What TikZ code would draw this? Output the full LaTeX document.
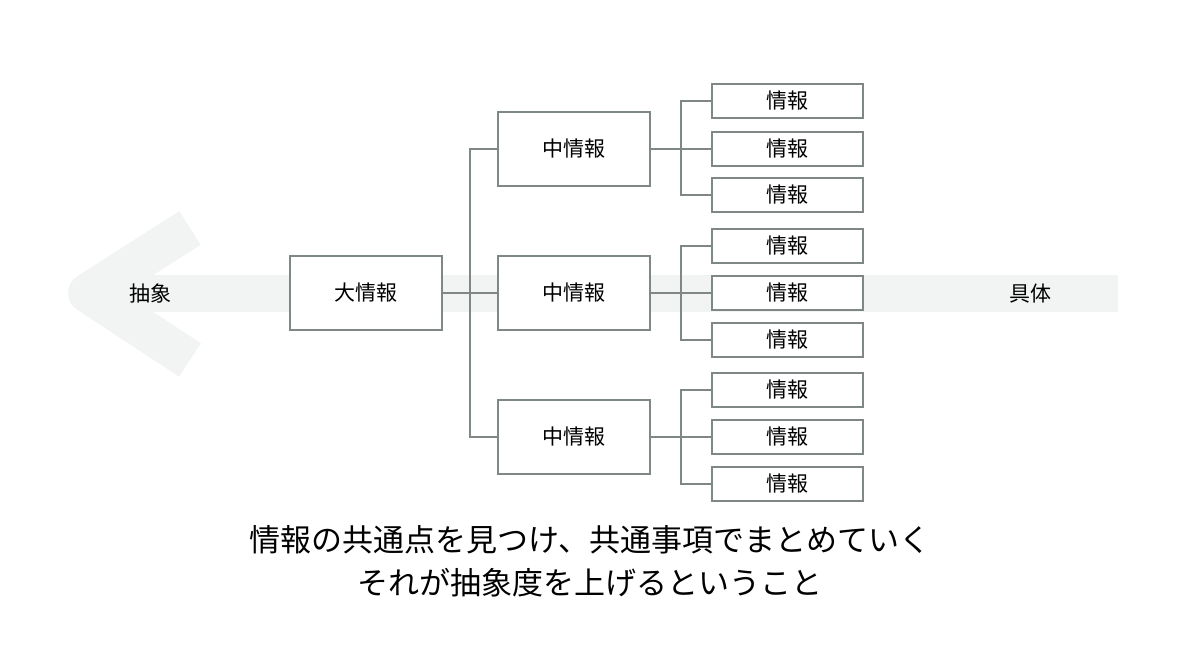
\documentclass[tikz,border=0pt]{standalone}
\usepackage{fontspec}
\newfontfamily\cjk{Noto Sans CJK JP}
\begin{document}
\begin{tikzpicture}[x=1pt,y=-1pt,
  box/.style={draw=linec,line width=2.4pt,fill=white,inner sep=0pt,font=\cjk\fontsize{21}{25}\selectfont},
  big/.style={box,minimum width=152pt,minimum height=74pt},
  small/.style={box,minimum width=151pt,minimum height=34pt},
  conn/.style={draw=linec,line width=2.4pt},
  lbl/.style={font=\cjk\fontsize{21}{25}\selectfont}]
\definecolor{linec}{HTML}{808887}
\definecolor{arrowc}{HTML}{F2F4F3}
\useasboundingbox (0,0) rectangle (1200,668);
% background arrow
\fill[arrowc] (80,275) rectangle (1118,312);
\draw[arrowc,line width=40pt,line join=round] (190,228) -- (88,293) -- (190,360);
\node[lbl] (abs) at (150,294) {抽象};
\node[lbl] (con) at (1030,294) {具体};
% boxes
\node[big] (L) at (366,293) {大情報};
\node[big] (M1) at (574,149) {中情報};
\node[big] (M2) at (574,293) {中情報};
\node[big] (M3) at (574,437) {中情報};
\foreach \m/\a/\b/\c in {1/101/149/195,2/246/293/340,3/390/437/484}{
  \node[small] (S\m a) at (787.5,\a) {情報};
  \node[small] (S\m b) at (787.5,\b) {情報};
  \node[small] (S\m c) at (787.5,\c) {情報};
}
\coordinate (J) at (470,293);
\draw[conn] (L.east) -- (J);
\draw[conn] (M1.west) -| (J) |- (M3.west);
\draw[conn] (J) -- (M2.west);
\foreach \m in {1,2,3}{
  \coordinate (K\m) at ([xshift=30pt]M\m.east);
  \draw[conn] (M\m.east) -- (K\m);
  \draw[conn] (S\m a.west) -| (K\m) |- (S\m c.west);
  \draw[conn] (K\m) -- (S\m b.west);
}
\node[font=\cjk\fontsize{31}{36}\selectfont] (t1) at (590,540) {情報の共通点を見つけ、共通事項でまとめていく};
\node[font=\cjk\fontsize{31}{36}\selectfont] (t2) at (590,583) {それが抽象度を上げるということ};
\end{tikzpicture}
\end{document}
